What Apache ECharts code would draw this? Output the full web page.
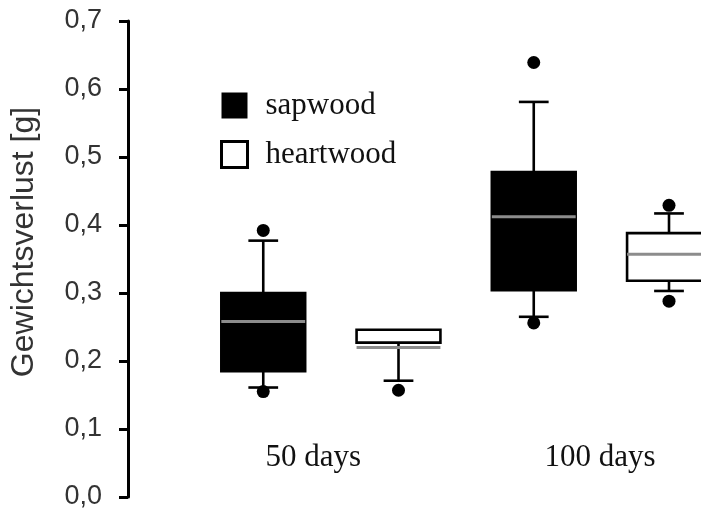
<!DOCTYPE html>
<html>
<head>
<meta charset="utf-8">
<title>Gewichtsverlust</title>
<script src="https://cdn.jsdelivr.net/npm/echarts@6/dist/echarts.min.js"></script>
<style>
	html, body { margin: 0; padding: 0; background: #fff; }
	#main { width: 701px; height: 513px; }
</style>
</head>
<body>
<div id="main"></div>
<script>
	// box positions on the x axis (1..4)
	var sapwoodX = [1, 3];
	var heartwoodX = [2, 4];
	// [min, Q1, median, Q3, max]
	var sapwoodStats = [
		[0.161, 0.185, 0.258, 0.300, 0.377],
		[0.265, 0.304, 0.412, 0.478, 0.581]
	];
	var heartwoodStats = [
		[0.171, 0.227, 0.220, 0.246, 0.246],
		[0.303, 0.318, 0.357, 0.388, 0.417]
	];
	// outliers [x, value]
	var sapwoodOutliers = [[1, 0.155], [1, 0.392], [3, 0.256], [3, 0.639]];
	var heartwoodOutliers = [[2, 0.157], [4, 0.288], [4, 0.429]];
	// group labels
	var groupNames = ['50 days', '100 days'];
	var groupPos = [1.37, 3.49];

	function toRows(xs, stats) {
		var rows = [];
		for (var i = 0; i < xs.length; i++) {
			rows.push([xs[i]].concat(stats[i]));
		};
		return rows;
	};

	function makeBox(fill) {
		return function(params, api) {
			var x = api.value(0);
			var unit = api.size([1, 0])[0];
			var half = unit * 0.31;
			var cap = unit * 0.11;
			var pMin = api.coord([x, api.value(1)]);
			var pQ1 = api.coord([x, api.value(2)]);
			var pMed = api.coord([x, api.value(3)]);
			var pQ3 = api.coord([x, api.value(4)]);
			var pMax = api.coord([x, api.value(5)]);
			var cx = pMin[0];
			var line = { stroke: '#000', lineWidth: 2.6 };
			var kids = [];
			kids.push({ type: 'line', shape: { x1: cx, y1: pQ1[1], x2: cx, y2: pMin[1] }, style: line });
			if (pMax[1] < pQ3[1]) {
				kids.push({ type: 'line', shape: { x1: cx, y1: pQ3[1], x2: cx, y2: pMax[1] }, style: line });
				kids.push({ type: 'line', shape: { x1: cx - cap, y1: pMax[1], x2: cx + cap, y2: pMax[1] }, style: line });
			};
			kids.push({ type: 'line', shape: { x1: cx - cap, y1: pMin[1], x2: cx + cap, y2: pMin[1] }, style: line });
			kids.push({
				type: 'rect',
				shape: { x: cx - half, y: pQ3[1], width: half * 2, height: pQ1[1] - pQ3[1] },
				style: { fill: fill, stroke: '#000', lineWidth: 2.6 }
			});
			kids.push({
				type: 'line',
				shape: { x1: cx - half, y1: pMed[1], x2: cx + half, y2: pMed[1] },
				style: { stroke: '#8c8c8c', lineWidth: 3 }
			});
			return { type: 'group', children: kids };
		};
	};

	var myChart = echarts.init(document.getElementById('main'));

	var option = {
		backgroundColor: '#fff',
		animation: false,
		grid: {
			left: 127,
			right: 32,
			top: 21,
			bottom: 16
		},
		legend: {
			orient: 'vertical',
			left: 220,
			top: 90,
			padding: 0,
			itemWidth: 26,
			itemHeight: 26,
			itemGap: 18,
			icon: 'rect',
			textStyle: {
				fontFamily: 'Liberation Serif',
				fontSize: 31,
				color: '#111',
				padding: [0, 0, 0, 13]
			},
			data: [{
				name: 'sapwood',
				itemStyle: { color: '#000', borderColor: '#000', borderWidth: 0 }
			}, {
				name: 'heartwood',
				itemStyle: { color: '#fff', borderColor: '#000', borderWidth: 3 }
			}]
		},
		xAxis: {
			type: 'value',
			min: 0,
			max: 4,
			axisLine: { show: false },
			axisTick: { show: false },
			splitLine: { show: false },
			axisLabel: {
				inside: true,
				margin: 24,
				customValues: groupPos,
				formatter: function(val) {
					var idx = groupPos.indexOf(val);
					return idx > -1 ? groupNames[idx] : '';
				},
				fontFamily: 'Liberation Serif',
				fontSize: 31,
				color: '#111'
			}
		},
		yAxis: {
			type: 'value',
			min: 0,
			max: 0.7,
			interval: 0.1,
			name: 'Gewichtsverlust [g]',
			nameLocation: 'middle',
			nameGap: 88,
			nameRotate: 90,
			nameTextStyle: {
				fontFamily: 'Liberation Sans',
				fontSize: 32,
				color: '#333',
				padding: [0, 0, 0, 34]
			},
			axisLine: {
				show: true,
				lineStyle: { color: '#000', width: 3 }
			},
			axisTick: {
				show: true,
				length: 9,
				lineStyle: { color: '#000', width: 3 }
			},
			splitLine: { show: false },
			axisLabel: {
				margin: 26,
				fontFamily: 'Liberation Sans',
				fontSize: 27,
				color: '#333',
				formatter: function(val) {
					return val.toFixed(1).replace('.', ',');
				}
			}
		},
		series: [{
			name: 'sapwood',
			type: 'custom',
			renderItem: makeBox('#000'),
			encode: { x: 0, y: [1, 2, 3, 4, 5] },
			data: toRows(sapwoodX, sapwoodStats)
		}, {
			name: 'heartwood',
			type: 'custom',
			renderItem: makeBox('#fff'),
			encode: { x: 0, y: [1, 2, 3, 4, 5] },
			data: toRows(heartwoodX, heartwoodStats)
		}, {
			name: 'sapwood',
			type: 'scatter',
			symbol: 'circle',
			symbolSize: 13,
			itemStyle: { color: '#000', opacity: 1 },
			z: 5,
			data: sapwoodOutliers
		}, {
			name: 'heartwood',
			type: 'scatter',
			symbol: 'circle',
			symbolSize: 13,
			itemStyle: { color: '#000', opacity: 1 },
			z: 5,
			data: heartwoodOutliers
		}]
	};
	myChart.setOption(option);
</script>
</body>
</html>
